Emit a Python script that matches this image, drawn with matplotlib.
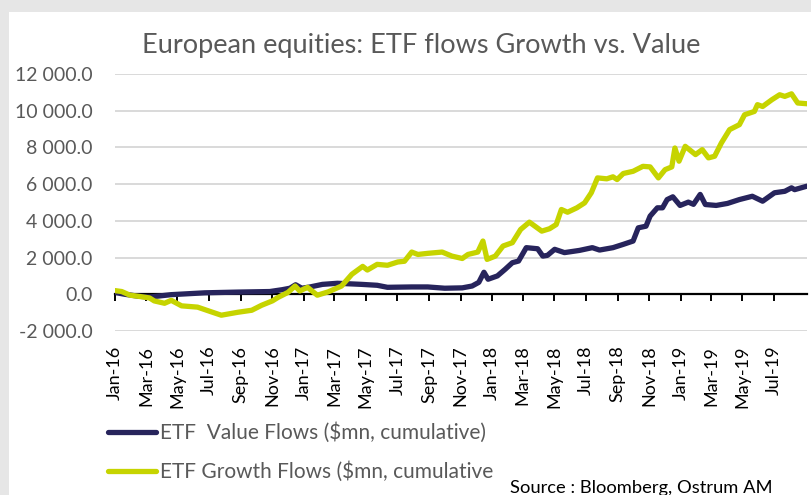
import matplotlib
matplotlib.use("Agg")
import matplotlib.pyplot as plt
import pandas as pd
from matplotlib.patches import Rectangle
from matplotlib.ticker import FuncFormatter

plt.rcParams['font.family'] = ['Lato', 'DejaVu Sans']

# ---------- data ----------
growth_dates = [
    "2016-01-01", "2016-01-14", "2016-01-30", "2016-02-18", "2016-03-08", "2016-03-17",
    "2016-04-06", "2016-04-19", "2016-05-09", "2016-06-09", "2016-07-06", "2016-07-25",
    "2016-08-26", "2016-09-22", "2016-10-11", "2016-11-01", "2016-11-12", "2016-12-01",
    "2016-12-15", "2016-12-24", "2017-01-08", "2017-01-27", "2017-02-17", "2017-03-15",
    "2017-04-04", "2017-04-25", "2017-05-04", "2017-05-23", "2017-06-12", "2017-07-02",
    "2017-07-15", "2017-07-29", "2017-08-10", "2017-08-29", "2017-09-26", "2017-10-15",
    "2017-11-04", "2017-11-15", "2017-12-04", "2017-12-14", "2017-12-22", "2018-01-07",
    "2018-01-22", "2018-02-09", "2018-02-25", "2018-03-14", "2018-04-07", "2018-04-22",
    "2018-05-05", "2018-05-15", "2018-05-27", "2018-06-14", "2018-06-29", "2018-07-12",
    "2018-07-24", "2018-08-11", "2018-08-23", "2018-08-31", "2018-09-12", "2018-10-01",
    "2018-10-20", "2018-11-03", "2018-11-19", "2018-12-02", "2018-12-15", "2018-12-21",
    "2018-12-29", "2019-01-10", "2019-01-30", "2019-02-12", "2019-02-24", "2019-03-08",
    "2019-03-21", "2019-04-06", "2019-04-25", "2019-05-05", "2019-05-24", "2019-05-30",
    "2019-06-09", "2019-06-27", "2019-07-12", "2019-07-22", "2019-08-04", "2019-08-16",
    "2019-09-03",
]
growth_flows = [
    200, 150, -50, -120, -200, -360,
    -490, -330, -630, -700, -960, -1140,
    -980, -870, -600, -360, -170, 100,
    450, 180, 380, -50, 130, 450,
    1090, 1520, 1320, 1630, 1580, 1760,
    1800, 2300, 2170, 2230, 2300, 2080,
    1950, 2170, 2300, 2900, 1900, 2080,
    2630, 2810, 3530, 3930, 3440, 3570,
    3800, 4620, 4470, 4710, 4980, 5530,
    6340, 6290, 6400, 6250, 6580, 6700,
    6970, 6940, 6340, 6790, 6940, 7970,
    7250, 8060, 7610, 7880, 7430, 7520,
    8240, 8970, 9240, 9780, 9960, 10330,
    10230, 10600, 10870, 10780, 10920, 10420,
    10380,
]

value_dates = [
    "2016-01-01", "2016-01-20", "2016-02-14", "2016-03-08", "2016-04-19", "2016-06-23",
    "2016-08-26", "2016-10-27", "2016-11-20", "2016-12-05", "2016-12-16", "2016-12-28",
    "2017-01-13", "2017-02-06", "2017-03-07", "2017-04-23", "2017-05-23", "2017-06-12",
    "2017-07-29", "2017-08-29", "2017-10-01", "2017-11-04", "2017-11-23", "2017-12-06",
    "2017-12-16", "2017-12-24", "2018-01-11", "2018-01-26", "2018-02-09", "2018-02-21",
    "2018-03-08", "2018-03-30", "2018-04-09", "2018-04-18", "2018-05-02", "2018-05-21",
    "2018-06-19", "2018-07-14", "2018-07-28", "2018-08-23", "2018-09-12", "2018-10-01",
    "2018-10-11", "2018-10-26", "2018-11-03", "2018-11-17", "2018-11-27", "2018-12-06",
    "2018-12-17", "2018-12-31", "2019-01-16", "2019-01-26", "2019-02-08", "2019-02-18",
    "2019-03-11", "2019-04-02", "2019-04-25", "2019-05-20", "2019-06-09", "2019-07-02",
    "2019-07-22", "2019-08-04", "2019-08-10", "2019-09-03",
]
value_flows = [
    100, 0, -100, -150, -20, 80,
    120, 150, 250, 330, 520, 330,
    400, 540, 600, 540, 490, 380,
    400, 400, 330, 350, 450, 650,
    1200, 820, 1000, 1360, 1720, 1810,
    2540, 2480, 2080, 2120, 2450, 2270,
    2390, 2540, 2410, 2540, 2720, 2900,
    3620, 3710, 4260, 4710, 4710, 5160,
    5310, 4840, 5020, 4900, 5440, 4890,
    4840, 4950, 5160, 5340, 5070, 5530,
    5610, 5800, 5700, 5890,
]

tick_labels = ["Jan-16", "Mar-16", "May-16", "Jul-16", "Sep-16", "Nov-16",
               "Jan-17", "Mar-17", "May-17", "Jul-17", "Sep-17", "Nov-17",
               "Jan-18", "Mar-18", "May-18", "Jul-18", "Sep-18", "Nov-18",
               "Jan-19", "Mar-19", "May-19", "Jul-19"]
y_ticks = [-2000, 0, 2000, 4000, 6000, 8000, 10000, 12000]

NAVY, LIME, GREY_TXT = "#27245c", "#c6d400", "#595959"
W, H = 812, 495

fig = plt.figure(figsize=(W / 100, H / 100), dpi=100, facecolor="#e6e6e6")
fig.patches.append(Rectangle((9 / W, 0), 1, 1 - 12 / H, transform=fig.transFigure,
                             facecolor="white", edgecolor="none", zorder=-5))

ax = fig.add_axes([115 / W, 1 - 331 / H, (807 - 115) / W, (331 - 74) / H])
ax.set_facecolor("none")

ax.plot(pd.to_datetime(value_dates), value_flows, color=NAVY, lw=3.8,
        solid_capstyle="round", solid_joinstyle="round", zorder=3,
        label="ETF  Value Flows ($mn, cumulative)")
ax.plot(pd.to_datetime(growth_dates), growth_flows, color=LIME, lw=3.8,
        solid_capstyle="round", solid_joinstyle="round", zorder=4,
        label="ETF Growth Flows ($mn, cumulative")

ax.set_xlim(pd.Timestamp("2016-01-01"), pd.Timestamp("2019-09-03"))
ax.set_ylim(-2000, 12000)
ax.set_yticks(y_ticks)
ax.yaxis.set_major_formatter(FuncFormatter(lambda v, p: f"{v:,.1f}".replace(",", " ")))
ax.set_xticks(pd.to_datetime(tick_labels, format="%b-%y"), labels=tick_labels)

for s in ["top", "right", "left"]:
    ax.spines[s].set_visible(False)
ax.spines["bottom"].set_position(("data", 0))
ax.spines["bottom"].set_linewidth(1.6)
ax.spines["bottom"].set_zorder(2.5)
ax.yaxis.grid(True, color="#d9d9d9", lw=1.4)
ax.set_axisbelow(True)

ax.tick_params(axis="y", length=0, pad=16, labelsize=14, labelcolor=GREY_TXT)
ax.tick_params(axis="x", direction="out", length=5, width=1.4, pad=32,
               labelsize=13, labelcolor="black", labelrotation=90)

fig.text(421 / W, 1 - 45 / H, "European equities: ETF flows Growth vs. Value",
         ha="center", va="center", fontsize=19.5, color=GREY_TXT)

fig.legend(loc="upper left", bbox_to_anchor=(100 / W, 1 - 414 / H), frameon=False,
           fontsize=15, labelcolor=GREY_TXT, handlelength=2.3, handletextpad=0.2,
           labelspacing=0.88, borderaxespad=0)

fig.text(510 / W, 1 - 488 / H, "Source : Bloomberg, Ostrum AM",
         ha="left", va="center", fontsize=13.2, color="black")

fig.savefig("out.png", dpi=100, facecolor=fig.get_facecolor())
